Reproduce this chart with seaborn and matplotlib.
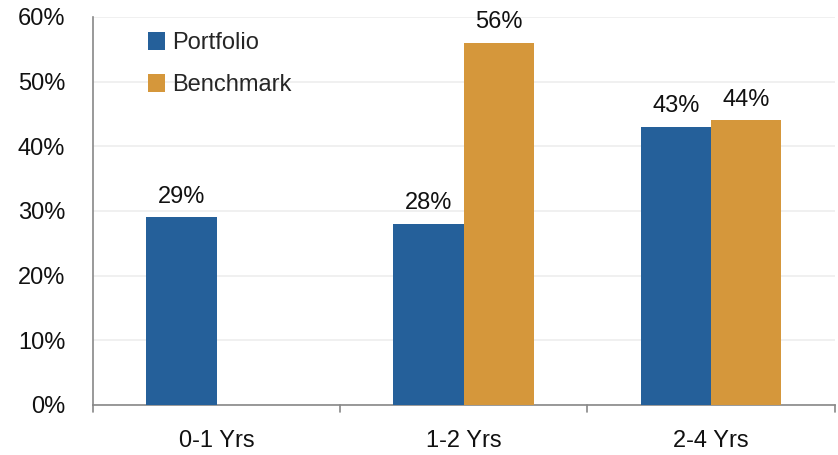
import numpy as np
import pandas as pd
import matplotlib
matplotlib.use("Agg")
import matplotlib.pyplot as plt
import seaborn as sns

categories = ["0-1 Yrs", "1-2 Yrs", "2-4 Yrs"]
portfolio = [29, 28, 43]
benchmark = [np.nan, 56, 44]
series_names = ["Portfolio", "Benchmark"]
y_ticks = [0, 10, 20, 30, 40, 50, 60]

df = pd.DataFrame({
    "cat": categories * 2,
    "val": portfolio + benchmark,
    "series": [series_names[0]] * 3 + [series_names[1]] * 3,
})

sns.set_theme(style="white")
plt.rcParams["font.family"] = ["Liberation Sans", "DejaVu Sans"]
FS = 17

fig = plt.figure(figsize=(8.38, 4.55), dpi=100)
ax = fig.add_axes([0.111, 0.110, 0.885, 0.853])
palette = {"Portfolio": "#25609a", "Benchmark": "#d5973b"}
sns.barplot(data=df, x="cat", y="val", hue="series", palette=palette,
            width=0.57, dodge=True, ax=ax, saturation=1, linewidth=0, zorder=3)

for cont in ax.containers:
    for rect in cont:
        h = rect.get_height()
        if np.isfinite(h) and h > 0:
            ax.text(rect.get_x() + rect.get_width() / 2, h + 1.5, f"{h:.0f}%",
                    ha="center", va="bottom", fontsize=FS, color="#111111")

ax.set_ylim(0, 60)
ax.set_xlim(-0.5, 2.5)
ax.set_yticks(y_ticks)
ax.set_yticklabels([f"{v}%" for v in y_ticks], fontsize=FS, color="#111111")
ax.set_xticks([0, 1, 2])
ax.set_xticklabels(categories, fontsize=FS, color="#111111")
ax.tick_params(axis="x", length=0, pad=18)
ax.tick_params(axis="y", length=6, width=1.2, color="#888888", pad=14)
for b in [-0.5, 0.5, 1.5, 2.5]:
    ax.plot([b, b], [0, -0.018], transform=ax.get_xaxis_transform(),
            color="#888888", lw=1.2, clip_on=False)
ax.set_xlabel("")
ax.set_ylabel("")
ax.yaxis.grid(True, color="#eeeeee", lw=1.2, zorder=0)
ax.set_axisbelow(True)
for s in ["top", "right"]:
    ax.spines[s].set_visible(False)
for s in ["left", "bottom"]:
    ax.spines[s].set_color("#888888")
    ax.spines[s].set_linewidth(1.2)

leg = ax.legend(loc="upper left", bbox_to_anchor=(0.045, 1.015), frameon=False,
                fontsize=FS, handlelength=0.75, handleheight=0.75,
                handletextpad=0.3, labelspacing=0.85)

fig.savefig("out.png", dpi=100)
